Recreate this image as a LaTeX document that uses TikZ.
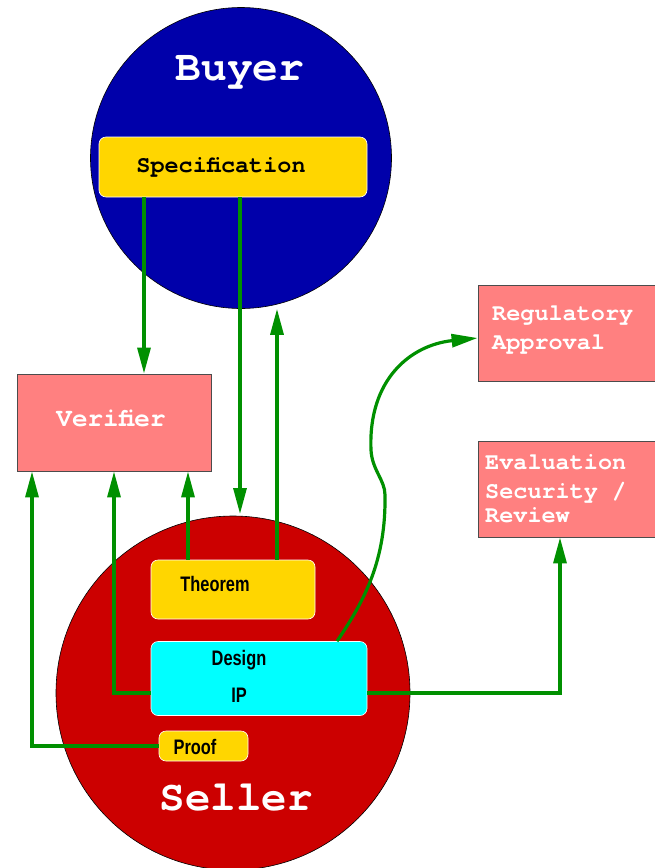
\documentclass[tikz,border=0pt]{standalone}
\usepackage{fontspec}
\setmainfont{Liberation Sans}
\newfontfamily\cour{TeX Gyre Cursor}
\usetikzlibrary{arrows.meta}

\definecolor{buyerblue}{RGB}{0,0,170}
\definecolor{sellerred}{RGB}{204,0,0}
\definecolor{rolepink}{RGB}{255,128,128}
\definecolor{itemgold}{RGB}{255,214,0}
\definecolor{designcyan}{RGB}{0,255,255}
\definecolor{flowgreen}{RGB}{0,144,0}

\newcommand{\slim}[1]{\scalebox{0.78}[1]{#1}}

\begin{document}
\begin{tikzpicture}[x=1pt,y=-1pt]
		\tikzstyle{party}=[draw=black, shape=circle, inner sep=0pt, line width=0.6pt];
		\tikzstyle{role}=[fill=rolepink, draw=black!70, shape=rectangle, inner sep=0pt, line width=0.8pt];
		\tikzstyle{item}=[draw=white, shape=rectangle, rounded corners=7pt, inner sep=0pt, line width=0.6pt];
		\tikzstyle{flow}=[draw=flowgreen, line width=3.2pt, -{Triangle[length=26pt,width=13pt]}];
		\tikzstyle{mono}=[text=white, inner sep=0pt];
		\tikzstyle{sans}=[text=black, inner sep=0pt, font=\fontsize{21}{37}\selectfont\bfseries];

		\useasboundingbox (0,0) rectangle (655,868);

		% parties
		\node[party, fill=buyerblue, minimum size=301pt] (buyer) at (241,158) {};
		\node[party, fill=sellerred, minimum size=354pt] (seller) at (233,693) {};
		\node[mono, font=\cour\bfseries\fontsize{43}{43}\selectfont] (buyername) at (240,72) {Buyer};
		\node[mono, font=\cour\bfseries\fontsize{42.5}{43}\selectfont] (sellername) at (236,798) {Seller};

		% roles
		\node[role, minimum width=194pt, minimum height=97pt] (verifier) at (114.5,422.5) {};
		\node[role, minimum width=230pt, minimum height=96pt] (regulatory) at (593,333) {};
		\node[role, minimum width=230pt, minimum height=96pt] (evaluation) at (593,489) {};
		\node[mono, font=\cour\bfseries\fontsize{26}{26}\selectfont] (verifiername) at (111,418) {Verifier};
		\node[mono, anchor=west, align=left, font=\cour\bfseries\fontsize{23.5}{29}\selectfont] (regulatoryname) at (492,330) {Regulatory\\Approval};
		\node[mono, anchor=west, align=left, font=\cour\bfseries\fontsize{23.5}{29}\selectfont] (evaluationname) at (485,489) {Evaluation\\Security /\\[-5pt]Review};

		% items
		\node[item, fill=itemgold, minimum width=268pt, minimum height=60pt] (spec) at (233,167) {};
		\node[item, fill=itemgold, minimum width=164pt, minimum height=59pt] (theorem) at (233,589.5) {};
		\node[item, fill=designcyan, minimum width=216pt, minimum height=74pt] (design) at (259,678.5) {};
		\node[item, fill=itemgold, minimum width=89pt, minimum height=30pt] (proof) at (203.5,746) {};
		\node[mono, text=black, font=\cour\bfseries\fontsize{23.5}{24}\selectfont] (specname) at (221,167) {Specification};
		\node[sans] (theoremname) at (215,584) {\slim{Theorem}};
		\node[sans, align=center] (designname) at (239,676) {\slim{Design}\\\slim{IP}};
		\node[sans] (proofname) at (195,747) {\slim{Proof}};

		% flows
		\draw[flow] (spec.south -| 144,0) -- (verifier.north -| 144,0);
		\draw[flow] (spec.south -| 240,0) -- (240,514);
		\draw[flow] (theorem.north -| 277,0) -- (buyer.south -| 277,0);
		\draw[flow] (theorem.north -| 188,0) -- (verifier.south -| 188,0);
		\draw[flow] (design.west |- 0,693) -| (verifier.south -| 114,0);
		\draw[flow] (proof.west |- 0,746) -| (verifier.south -| 32,0);
		\draw[flow] (design.east |- 0,693) -| (evaluation.south -| 560,0);
		\draw[flow] (design.north -| 337,0) .. controls (365,600) and (386,560) .. (385,495)
			.. controls (385,480) and (372,470) .. (371,450)
			.. controls (368,380) and (410,345) .. (regulatory.west |- 0,338);
\end{tikzpicture}
\end{document}
